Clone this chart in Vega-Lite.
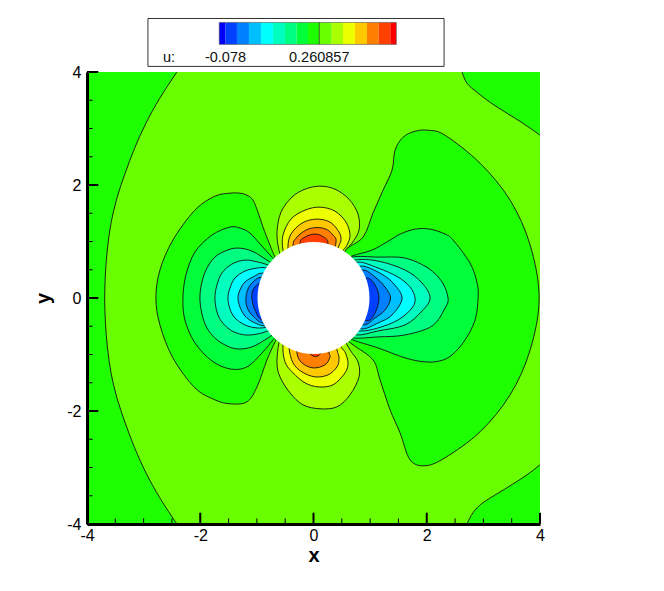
{"$schema":"https://vega.github.io/schema/vega-lite/v6.json","width":453,"height":452,"autosize":{"type":"none"},"padding":{"left":87,"top":72,"right":124,"bottom":67},"background":"white","config":{"view":{"stroke":null}},
"datasets":{
"base":[{"x":-4,"x2":4,"y":-4,"y2":4,"b":"l09"}],
"circle":[{"x":0,"y":0}],
"xt":[{"x":-4,"y":-4,"y2":-3.8,"k":"M"},{"x":-3.5,"y":-4,"y2":-3.9,"k":"m"},{"x":-3,"y":-4,"y2":-3.9,"k":"m"},{"x":-2.5,"y":-4,"y2":-3.9,"k":"m"},{"x":-2,"y":-4,"y2":-3.8,"k":"M"},{"x":-1.5,"y":-4,"y2":-3.9,"k":"m"},{"x":-1,"y":-4,"y2":-3.9,"k":"m"},{"x":-0.5,"y":-4,"y2":-3.9,"k":"m"},{"x":0,"y":-4,"y2":-3.8,"k":"M"},{"x":0.5,"y":-4,"y2":-3.9,"k":"m"},{"x":1,"y":-4,"y2":-3.9,"k":"m"},{"x":1.5,"y":-4,"y2":-3.9,"k":"m"},{"x":2,"y":-4,"y2":-3.8,"k":"M"},{"x":2.5,"y":-4,"y2":-3.9,"k":"m"},{"x":3,"y":-4,"y2":-3.9,"k":"m"},{"x":3.5,"y":-4,"y2":-3.9,"k":"m"},{"x":4,"y":-4,"y2":-3.8,"k":"M"}],
"yt":[{"y":-4,"x":-4,"x2":-3.8,"k":"M"},{"y":-3.5,"x":-4,"x2":-3.9,"k":"m"},{"y":-3,"x":-4,"x2":-3.9,"k":"m"},{"y":-2.5,"x":-4,"x2":-3.9,"k":"m"},{"y":-2,"x":-4,"x2":-3.8,"k":"M"},{"y":-1.5,"x":-4,"x2":-3.9,"k":"m"},{"y":-1,"x":-4,"x2":-3.9,"k":"m"},{"y":-0.5,"x":-4,"x2":-3.9,"k":"m"},{"y":0,"x":-4,"x2":-3.8,"k":"M"},{"y":0.5,"x":-4,"x2":-3.9,"k":"m"},{"y":1,"x":-4,"x2":-3.9,"k":"m"},{"y":1.5,"x":-4,"x2":-3.9,"k":"m"},{"y":2,"x":-4,"x2":-3.8,"k":"M"},{"y":2.5,"x":-4,"x2":-3.9,"k":"m"},{"y":3,"x":-4,"x2":-3.9,"k":"m"},{"y":3.5,"x":-4,"x2":-3.9,"k":"m"},{"y":4,"x":-4,"x2":-3.8,"k":"M"}],
"box":[{"x":-2.924,"x2":2.306,"y":4.099,"y2":4.947}],
"bands":[{"b":"l00","x":-1.665,"x2":-1.552,"y":4.488,"y2":4.877},{"b":"l01","x":-1.552,"x2":-1.352,"y":4.488,"y2":4.877},{"b":"l02","x":-1.352,"x2":-1.14,"y":4.488,"y2":4.877},{"b":"l03","x":-1.14,"x2":-0.928,"y":4.488,"y2":4.877},{"b":"l04","x":-0.928,"x2":-0.716,"y":4.488,"y2":4.877},{"b":"l05","x":-0.716,"x2":-0.504,"y":4.488,"y2":4.877},{"b":"l06","x":-0.504,"x2":-0.297,"y":4.488,"y2":4.877},{"b":"l07","x":-0.297,"x2":-0.097,"y":4.488,"y2":4.877},{"b":"l08","x":-0.097,"x2":0.102,"y":4.488,"y2":4.877},{"b":"l09","x":0.102,"x2":0.322,"y":4.488,"y2":4.877},{"b":"l10","x":0.322,"x2":0.521,"y":4.488,"y2":4.877},{"b":"l11","x":0.521,"x2":0.733,"y":4.488,"y2":4.877},{"b":"l12","x":0.733,"x2":0.945,"y":4.488,"y2":4.877},{"b":"l13","x":0.945,"x2":1.152,"y":4.488,"y2":4.877},{"b":"l14","x":1.152,"x2":1.357,"y":4.488,"y2":4.877},{"b":"l15","x":1.357,"x2":1.463,"y":4.488,"y2":4.877}],
"frame":[{"x":-1.665,"x2":1.463,"y":4.488,"y2":4.877}],
"mid":[{"x":0.102,"y":4.488,"y2":4.877}],
"labels":[{"x":-2.659,"y":4.17,"t":"u:"},{"x":-1.917,"y":4.17,"t":"-0.078"},{"x":-0.433,"y":4.17,"t":"0.260857"}],
"c":[
{"c":"A","b":"l08","x":-2.235,"y":4.241},{"c":"A","b":"l08","x":-2.417,"y":3.993},{"c":"A","b":"l08","x":-2.716,"y":3.534},{"c":"A","b":"l08","x":-2.96,"y":3.092},{"c":"A","b":"l08","x":-3.159,"y":2.651},{"c":"A","b":"l08","x":-3.326,"y":2.209},{"c":"A","b":"l08","x":-3.472,"y":1.767},{"c":"A","b":"l08","x":-3.576,"y":1.325},{"c":"A","b":"l08","x":-3.638,"y":0.884},{"c":"A","b":"l08","x":-3.674,"y":0.442},{"c":"A","b":"l08","x":-3.688,"y":0},{"c":"A","b":"l08","x":-3.674,"y":-0.442},{"c":"A","b":"l08","x":-3.638,"y":-0.884},{"c":"A","b":"l08","x":-3.576,"y":-1.325},{"c":"A","b":"l08","x":-3.472,"y":-1.767},{"c":"A","b":"l08","x":-3.326,"y":-2.209},{"c":"A","b":"l08","x":-3.159,"y":-2.651},{"c":"A","b":"l08","x":-2.96,"y":-3.092},{"c":"A","b":"l08","x":-2.716,"y":-3.534},{"c":"A","b":"l08","x":-2.417,"y":-3.993},{"c":"A","b":"l08","x":-2.235,"y":-4.241},{"c":"A","b":"l08","x":-4.83,"y":-4.241},{"c":"A","b":"l08","x":-4.83,"y":4.241},
{"c":"B","b":"l08","x":2.536,"y":4.205},{"c":"B","b":"l08","x":2.624,"y":3.993},{"c":"B","b":"l08","x":2.712,"y":3.799},{"c":"B","b":"l08","x":2.889,"y":3.64},{"c":"B","b":"l08","x":3.119,"y":3.463},{"c":"B","b":"l08","x":3.419,"y":3.269},{"c":"B","b":"l08","x":3.702,"y":3.092},{"c":"B","b":"l08","x":4.002,"y":2.88},{"c":"B","b":"l08","x":4.285,"y":2.668},{"c":"B","b":"l08","x":5.06,"y":2.668},{"c":"B","b":"l08","x":5.06,"y":4.205},
{"c":"C","b":"l08","x":2.606,"y":-4.188},{"c":"C","b":"l08","x":2.712,"y":-3.993},{"c":"C","b":"l08","x":2.818,"y":-3.799},{"c":"C","b":"l08","x":2.995,"y":-3.622},{"c":"C","b":"l08","x":3.419,"y":-3.357},{"c":"C","b":"l08","x":3.773,"y":-3.128},{"c":"C","b":"l08","x":4.002,"y":-2.951},{"c":"C","b":"l08","x":4.285,"y":-2.739},{"c":"C","b":"l08","x":5.06,"y":-2.739},{"c":"C","b":"l08","x":5.06,"y":-4.188},
{"c":"L1","b":"l08","x":-0.574,"y":0.53},{"c":"L1","b":"l08","x":-0.68,"y":0.724},{"c":"L1","b":"l08","x":-0.769,"y":0.937},{"c":"L1","b":"l08","x":-0.892,"y":1.255},{"c":"L1","b":"l08","x":-0.981,"y":1.52},{"c":"L1","b":"l08","x":-1.069,"y":1.732},{"c":"L1","b":"l08","x":-1.175,"y":1.82},{"c":"L1","b":"l08","x":-1.299,"y":1.855},{"c":"L1","b":"l08","x":-1.475,"y":1.855},{"c":"L1","b":"l08","x":-1.741,"y":1.802},{"c":"L1","b":"l08","x":-2.094,"y":1.555},{"c":"L1","b":"l08","x":-2.483,"y":1.025},{"c":"L1","b":"l08","x":-2.712,"y":0.495},{"c":"L1","b":"l08","x":-2.783,"y":0},{"c":"L1","b":"l08","x":-2.712,"y":-0.477},{"c":"L1","b":"l08","x":-2.483,"y":-1.06},{"c":"L1","b":"l08","x":-2.094,"y":-1.59},{"c":"L1","b":"l08","x":-1.741,"y":-1.802},{"c":"L1","b":"l08","x":-1.475,"y":-1.873},{"c":"L1","b":"l08","x":-1.175,"y":-1.838},{"c":"L1","b":"l08","x":-0.998,"y":-1.573},{"c":"L1","b":"l08","x":-0.822,"y":-1.096},{"c":"L1","b":"l08","x":-0.68,"y":-0.777},{"c":"L1","b":"l08","x":-0.574,"y":-0.565},
{"c":"R1","b":"l08","x":0.468,"y":0.618},{"c":"R1","b":"l08","x":0.557,"y":0.848},{"c":"R1","b":"l08","x":0.875,"y":1.078},{"c":"R1","b":"l08","x":1.051,"y":1.502},{"c":"R1","b":"l08","x":1.228,"y":1.908},{"c":"R1","b":"l08","x":1.387,"y":2.262},{"c":"R1","b":"l08","x":1.44,"y":2.615},{"c":"R1","b":"l08","x":1.581,"y":2.845},{"c":"R1","b":"l08","x":1.794,"y":2.951},{"c":"R1","b":"l08","x":2.023,"y":2.969},{"c":"R1","b":"l08","x":2.324,"y":2.88},{"c":"R1","b":"l08","x":2.942,"y":2.385},{"c":"R1","b":"l08","x":3.472,"y":1.732},{"c":"R1","b":"l08","x":3.826,"y":0.937},{"c":"R1","b":"l08","x":3.985,"y":0},{"c":"R1","b":"l08","x":3.826,"y":-0.919},{"c":"R1","b":"l08","x":3.472,"y":-1.714},{"c":"R1","b":"l08","x":2.942,"y":-2.368},{"c":"R1","b":"l08","x":2.324,"y":-2.827},{"c":"R1","b":"l08","x":1.97,"y":-2.969},{"c":"R1","b":"l08","x":1.705,"y":-2.863},{"c":"R1","b":"l08","x":1.528,"y":-2.385},{"c":"R1","b":"l08","x":1.352,"y":-1.979},{"c":"R1","b":"l08","x":1.175,"y":-1.449},{"c":"R1","b":"l08","x":1.051,"y":-1.096},{"c":"R1","b":"l08","x":0.698,"y":-0.83},{"c":"R1","b":"l08","x":0.468,"y":-0.654},
{"c":"L2","b":"l07","x":-0.539,"y":0.53},{"c":"L2","b":"l07","x":-0.733,"y":0.724},{"c":"L2","b":"l07","x":-0.91,"y":0.919},{"c":"L2","b":"l07","x":-1.122,"y":1.149},{"c":"L2","b":"l07","x":-1.299,"y":1.237},{"c":"L2","b":"l07","x":-1.475,"y":1.255},{"c":"L2","b":"l07","x":-1.794,"y":1.113},{"c":"L2","b":"l07","x":-2.094,"y":0.813},{"c":"L2","b":"l07","x":-2.253,"y":0.406},{"c":"L2","b":"l07","x":-2.306,"y":0},{"c":"L2","b":"l07","x":-2.271,"y":-0.389},{"c":"L2","b":"l07","x":-2.094,"y":-0.795},{"c":"L2","b":"l07","x":-1.794,"y":-1.113},{"c":"L2","b":"l07","x":-1.475,"y":-1.255},{"c":"L2","b":"l07","x":-1.175,"y":-1.219},{"c":"L2","b":"l07","x":-0.892,"y":-0.954},{"c":"L2","b":"l07","x":-0.716,"y":-0.742},{"c":"L2","b":"l07","x":-0.539,"y":-0.53},
{"c":"R2","b":"l07","x":0.504,"y":0.618},{"c":"R2","b":"l07","x":0.68,"y":0.742},{"c":"R2","b":"l07","x":1.034,"y":0.848},{"c":"R2","b":"l07","x":1.352,"y":1.025},{"c":"R2","b":"l07","x":1.528,"y":1.131},{"c":"R2","b":"l07","x":1.794,"y":1.219},{"c":"R2","b":"l07","x":2.059,"y":1.219},{"c":"R2","b":"l07","x":2.324,"y":1.131},{"c":"R2","b":"l07","x":2.465,"y":1.025},{"c":"R2","b":"l07","x":2.765,"y":0.618},{"c":"R2","b":"l07","x":2.889,"y":0.265},{"c":"R2","b":"l07","x":2.907,"y":0},{"c":"R2","b":"l07","x":2.854,"y":-0.389},{"c":"R2","b":"l07","x":2.677,"y":-0.742},{"c":"R2","b":"l07","x":2.447,"y":-1.007},{"c":"R2","b":"l07","x":2.235,"y":-1.113},{"c":"R2","b":"l07","x":1.97,"y":-1.131},{"c":"R2","b":"l07","x":1.617,"y":-1.06},{"c":"R2","b":"l07","x":1.14,"y":-0.884},{"c":"R2","b":"l07","x":0.698,"y":-0.742},{"c":"R2","b":"l07","x":0.504,"y":-0.618},
{"c":"L3","b":"l06","x":-0.557,"y":0.495},{"c":"L3","b":"l06","x":-0.769,"y":0.636},{"c":"L3","b":"l06","x":-1.087,"y":0.83},{"c":"L3","b":"l06","x":-1.352,"y":0.884},{"c":"L3","b":"l06","x":-1.564,"y":0.83},{"c":"L3","b":"l06","x":-1.741,"y":0.724},{"c":"L3","b":"l06","x":-1.882,"y":0.53},{"c":"L3","b":"l06","x":-1.97,"y":0.283},{"c":"L3","b":"l06","x":-2.006,"y":0},{"c":"L3","b":"l06","x":-1.97,"y":-0.283},{"c":"L3","b":"l06","x":-1.882,"y":-0.53},{"c":"L3","b":"l06","x":-1.741,"y":-0.707},{"c":"L3","b":"l06","x":-1.564,"y":-0.83},{"c":"L3","b":"l06","x":-1.352,"y":-0.901},{"c":"L3","b":"l06","x":-1.087,"y":-0.866},{"c":"L3","b":"l06","x":-0.804,"y":-0.707},{"c":"L3","b":"l06","x":-0.557,"y":-0.53},
{"c":"R3","b":"l06","x":0.504,"y":0.583},{"c":"R3","b":"l06","x":0.68,"y":0.724},{"c":"R3","b":"l06","x":1.14,"y":0.724},{"c":"R3","b":"l06","x":1.617,"y":0.707},{"c":"R3","b":"l06","x":2.023,"y":0.53},{"c":"R3","b":"l06","x":2.271,"y":0.283},{"c":"R3","b":"l06","x":2.376,"y":0},{"c":"R3","b":"l06","x":2.324,"y":-0.177},{"c":"R3","b":"l06","x":2.094,"y":-0.495},{"c":"R3","b":"l06","x":1.617,"y":-0.654},{"c":"R3","b":"l06","x":1.14,"y":-0.689},{"c":"R3","b":"l06","x":0.698,"y":-0.707},{"c":"R3","b":"l06","x":0.504,"y":-0.601},
{"c":"L4","b":"l05","x":-0.557,"y":0.459},{"c":"L4","b":"l05","x":-0.804,"y":0.583},{"c":"L4","b":"l05","x":-0.981,"y":0.636},{"c":"L4","b":"l05","x":-1.21,"y":0.671},{"c":"L4","b":"l05","x":-1.44,"y":0.601},{"c":"L4","b":"l05","x":-1.617,"y":0.442},{"c":"L4","b":"l05","x":-1.705,"y":0.23},{"c":"L4","b":"l05","x":-1.741,"y":0},{"c":"L4","b":"l05","x":-1.705,"y":-0.247},{"c":"L4","b":"l05","x":-1.617,"y":-0.424},{"c":"L4","b":"l05","x":-1.44,"y":-0.583},{"c":"L4","b":"l05","x":-1.21,"y":-0.654},{"c":"L4","b":"l05","x":-0.981,"y":-0.636},{"c":"L4","b":"l05","x":-0.804,"y":-0.583},{"c":"L4","b":"l05","x":-0.557,"y":-0.495},
{"c":"R4","b":"l05","x":0.539,"y":0.53},{"c":"R4","b":"l05","x":0.733,"y":0.671},{"c":"R4","b":"l05","x":1.14,"y":0.654},{"c":"R4","b":"l05","x":1.617,"y":0.495},{"c":"R4","b":"l05","x":1.917,"y":0.265},{"c":"R4","b":"l05","x":2.059,"y":0},{"c":"R4","b":"l05","x":1.917,"y":-0.23},{"c":"R4","b":"l05","x":1.617,"y":-0.477},{"c":"R4","b":"l05","x":1.14,"y":-0.583},{"c":"R4","b":"l05","x":0.769,"y":-0.654},{"c":"R4","b":"l05","x":0.539,"y":-0.53},
{"c":"L5","b":"l04","x":-0.557,"y":0.424},{"c":"L5","b":"l04","x":-0.822,"y":0.53},{"c":"L5","b":"l04","x":-0.998,"y":0.53},{"c":"L5","b":"l04","x":-1.21,"y":0.477},{"c":"L5","b":"l04","x":-1.387,"y":0.353},{"c":"L5","b":"l04","x":-1.475,"y":0.177},{"c":"L5","b":"l04","x":-1.511,"y":0},{"c":"L5","b":"l04","x":-1.475,"y":-0.194},{"c":"L5","b":"l04","x":-1.387,"y":-0.353},{"c":"L5","b":"l04","x":-1.21,"y":-0.477},{"c":"L5","b":"l04","x":-0.998,"y":-0.53},{"c":"L5","b":"l04","x":-0.804,"y":-0.512},{"c":"L5","b":"l04","x":-0.557,"y":-0.442},
{"c":"R5","b":"l04","x":0.574,"y":0.495},{"c":"R5","b":"l04","x":0.786,"y":0.636},{"c":"R5","b":"l04","x":1.14,"y":0.53},{"c":"R5","b":"l04","x":1.493,"y":0.371},{"c":"R5","b":"l04","x":1.705,"y":0.194},{"c":"R5","b":"l04","x":1.794,"y":0},{"c":"R5","b":"l04","x":1.74,"y":-0.177},{"c":"R5","b":"l04","x":1.493,"y":-0.389},{"c":"R5","b":"l04","x":1.14,"y":-0.53},{"c":"R5","b":"l04","x":0.822,"y":-0.583},{"c":"R5","b":"l04","x":0.574,"y":-0.495},
{"c":"L6","b":"l03","x":-0.592,"y":0.353},{"c":"L6","b":"l03","x":-0.892,"y":0.442},{"c":"L6","b":"l03","x":-1.069,"y":0.371},{"c":"L6","b":"l03","x":-1.21,"y":0.283},{"c":"L6","b":"l03","x":-1.299,"y":0.141},{"c":"L6","b":"l03","x":-1.334,"y":0},{"c":"L6","b":"l03","x":-1.299,"y":-0.159},{"c":"L6","b":"l03","x":-1.21,"y":-0.318},{"c":"L6","b":"l03","x":-1.069,"y":-0.424},{"c":"L6","b":"l03","x":-0.857,"y":-0.495},{"c":"L6","b":"l03","x":-0.592,"y":-0.424},
{"c":"R6","b":"l03","x":0.61,"y":0.424},{"c":"R6","b":"l03","x":0.839,"y":0.565},{"c":"R6","b":"l03","x":1.14,"y":0.459},{"c":"R6","b":"l03","x":1.387,"y":0.283},{"c":"R6","b":"l03","x":1.564,"y":0},{"c":"R6","b":"l03","x":1.387,"y":-0.3},{"c":"R6","b":"l03","x":1.14,"y":-0.442},{"c":"R6","b":"l03","x":0.857,"y":-0.548},{"c":"R6","b":"l03","x":0.61,"y":-0.424},
{"c":"L7","b":"l02","x":-0.627,"y":0.283},{"c":"L7","b":"l02","x":-0.91,"y":0.371},{"c":"L7","b":"l02","x":-1.069,"y":0.283},{"c":"L7","b":"l02","x":-1.157,"y":0.159},{"c":"L7","b":"l02","x":-1.193,"y":0},{"c":"L7","b":"l02","x":-1.175,"y":-0.159},{"c":"L7","b":"l02","x":-1.087,"y":-0.3},{"c":"L7","b":"l02","x":-0.892,"y":-0.442},{"c":"L7","b":"l02","x":-0.627,"y":-0.353},
{"c":"R7","b":"l02","x":0.645,"y":0.353},{"c":"R7","b":"l02","x":0.875,"y":0.495},{"c":"R7","b":"l02","x":1.087,"y":0.371},{"c":"R7","b":"l02","x":1.263,"y":0.194},{"c":"R7","b":"l02","x":1.361,"y":0},{"c":"R7","b":"l02","x":1.263,"y":-0.212},{"c":"R7","b":"l02","x":1.087,"y":-0.353},{"c":"R7","b":"l02","x":0.892,"y":-0.477},{"c":"R7","b":"l02","x":0.645,"y":-0.353},
{"c":"L8","b":"l01","x":-0.68,"y":0.265},{"c":"L8","b":"l01","x":-0.945,"y":0.265},{"c":"L8","b":"l01","x":-1.069,"y":0.141},{"c":"L8","b":"l01","x":-1.087,"y":0},{"c":"L8","b":"l01","x":-1.034,"y":-0.212},{"c":"L8","b":"l01","x":-0.91,"y":-0.389},{"c":"L8","b":"l01","x":-0.68,"y":-0.3},
{"c":"R8","b":"l01","x":0.68,"y":0.247},{"c":"R8","b":"l01","x":0.945,"y":0.353},{"c":"R8","b":"l01","x":1.087,"y":0.23},{"c":"R8","b":"l01","x":1.157,"y":0},{"c":"R8","b":"l01","x":1.087,"y":-0.265},{"c":"R8","b":"l01","x":0.945,"y":-0.406},{"c":"R8","b":"l01","x":0.68,"y":-0.247},
{"c":"PT1","b":"l10","x":-0.521,"y":0.583},{"c":"PT1","b":"l10","x":-0.61,"y":0.848},{"c":"PT1","b":"l10","x":-0.645,"y":1.166},{"c":"PT1","b":"l10","x":-0.574,"y":1.52},{"c":"PT1","b":"l10","x":-0.38,"y":1.785},{"c":"PT1","b":"l10","x":-0.15,"y":1.926},{"c":"PT1","b":"l10","x":0.115,"y":1.979},{"c":"PT1","b":"l10","x":0.38,"y":1.926},{"c":"PT1","b":"l10","x":0.627,"y":1.749},{"c":"PT1","b":"l10","x":0.786,"y":1.484},{"c":"PT1","b":"l10","x":0.804,"y":1.202},{"c":"PT1","b":"l10","x":0.68,"y":0.972},{"c":"PT1","b":"l10","x":0.557,"y":0.83},{"c":"PT1","b":"l10","x":0.468,"y":0.583},
{"c":"PT2","b":"l11","x":-0.468,"y":0.583},{"c":"PT2","b":"l11","x":-0.539,"y":0.848},{"c":"PT2","b":"l11","x":-0.539,"y":1.113},{"c":"PT2","b":"l11","x":-0.398,"y":1.396},{"c":"PT2","b":"l11","x":-0.15,"y":1.555},{"c":"PT2","b":"l11","x":0.115,"y":1.608},{"c":"PT2","b":"l11","x":0.38,"y":1.537},{"c":"PT2","b":"l11","x":0.574,"y":1.343},{"c":"PT2","b":"l11","x":0.645,"y":1.113},{"c":"PT2","b":"l11","x":0.592,"y":0.937},{"c":"PT2","b":"l11","x":0.504,"y":0.813},{"c":"PT2","b":"l11","x":0.415,"y":0.583},
{"c":"PT3","b":"l12","x":-0.415,"y":0.583},{"c":"PT3","b":"l12","x":-0.451,"y":0.901},{"c":"PT3","b":"l12","x":-0.398,"y":1.131},{"c":"PT3","b":"l12","x":-0.203,"y":1.325},{"c":"PT3","b":"l12","x":0.044,"y":1.396},{"c":"PT3","b":"l12","x":0.292,"y":1.343},{"c":"PT3","b":"l12","x":0.451,"y":1.166},{"c":"PT3","b":"l12","x":0.486,"y":1.025},{"c":"PT3","b":"l12","x":0.433,"y":0.884},{"c":"PT3","b":"l12","x":0.345,"y":0.583},
{"c":"PT4","b":"l13","x":-0.327,"y":0.583},{"c":"PT4","b":"l13","x":-0.362,"y":0.937},{"c":"PT4","b":"l13","x":-0.292,"y":1.078},{"c":"PT4","b":"l13","x":-0.133,"y":1.202},{"c":"PT4","b":"l13","x":0.044,"y":1.246},{"c":"PT4","b":"l13","x":0.221,"y":1.219},{"c":"PT4","b":"l13","x":0.345,"y":1.113},{"c":"PT4","b":"l13","x":0.398,"y":0.99},{"c":"PT4","b":"l13","x":0.292,"y":0.583},
{"c":"PT5","b":"l14","x":-0.203,"y":0.583},{"c":"PT5","b":"l14","x":-0.239,"y":0.972},{"c":"PT5","b":"l14","x":-0.15,"y":1.078},{"c":"PT5","b":"l14","x":0.009,"y":1.131},{"c":"PT5","b":"l14","x":0.15,"y":1.096},{"c":"PT5","b":"l14","x":0.256,"y":0.972},{"c":"PT5","b":"l14","x":0.203,"y":0.583},
{"c":"PB1","b":"l10","x":-0.521,"y":-0.565},{"c":"PB1","b":"l10","x":-0.61,"y":-0.795},{"c":"PB1","b":"l10","x":-0.645,"y":-1.149},{"c":"PB1","b":"l10","x":-0.592,"y":-1.396},{"c":"PB1","b":"l10","x":-0.415,"y":-1.679},{"c":"PB1","b":"l10","x":-0.186,"y":-1.891},{"c":"PB1","b":"l10","x":0.115,"y":-1.961},{"c":"PB1","b":"l10","x":0.415,"y":-1.926},{"c":"PB1","b":"l10","x":0.645,"y":-1.714},{"c":"PB1","b":"l10","x":0.804,"y":-1.396},{"c":"PB1","b":"l10","x":0.786,"y":-1.131},{"c":"PB1","b":"l10","x":0.645,"y":-0.919},{"c":"PB1","b":"l10","x":0.468,"y":-0.601},
{"c":"PB2","b":"l11","x":-0.468,"y":-0.601},{"c":"PB2","b":"l11","x":-0.539,"y":-0.83},{"c":"PB2","b":"l11","x":-0.504,"y":-1.131},{"c":"PB2","b":"l11","x":-0.362,"y":-1.325},{"c":"PB2","b":"l11","x":-0.15,"y":-1.502},{"c":"PB2","b":"l11","x":0.08,"y":-1.573},{"c":"PB2","b":"l11","x":0.345,"y":-1.537},{"c":"PB2","b":"l11","x":0.557,"y":-1.325},{"c":"PB2","b":"l11","x":0.61,"y":-1.149},{"c":"PB2","b":"l11","x":0.557,"y":-0.954},{"c":"PB2","b":"l11","x":0.486,"y":-0.866},{"c":"PB2","b":"l11","x":0.415,"y":-0.601},
{"c":"PB3","b":"l12","x":-0.398,"y":-0.601},{"c":"PB3","b":"l12","x":-0.433,"y":-0.866},{"c":"PB3","b":"l12","x":-0.362,"y":-1.149},{"c":"PB3","b":"l12","x":-0.203,"y":-1.308},{"c":"PB3","b":"l12","x":0.027,"y":-1.396},{"c":"PB3","b":"l12","x":0.256,"y":-1.361},{"c":"PB3","b":"l12","x":0.415,"y":-1.219},{"c":"PB3","b":"l12","x":0.451,"y":-1.06},{"c":"PB3","b":"l12","x":0.415,"y":-0.919},{"c":"PB3","b":"l12","x":0.362,"y":-0.601},
{"c":"PB4","b":"l13","x":-0.292,"y":-0.601},{"c":"PB4","b":"l13","x":-0.292,"y":-0.972},{"c":"PB4","b":"l13","x":-0.203,"y":-1.149},{"c":"PB4","b":"l13","x":-0.009,"y":-1.237},{"c":"PB4","b":"l13","x":0.203,"y":-1.184},{"c":"PB4","b":"l13","x":0.292,"y":-1.043},{"c":"PB4","b":"l13","x":0.274,"y":-0.954},{"c":"PB4","b":"l13","x":0.292,"y":-0.601},
{"c":"PB5","b":"l14","x":-0.08,"y":-0.83},{"c":"PB5","b":"l14","x":-0.08,"y":-0.954},{"c":"PB5","b":"l14","x":-0.009,"y":-1.025},{"c":"PB5","b":"l14","x":0.08,"y":-1.025},{"c":"PB5","b":"l14","x":0.133,"y":-0.954},{"c":"PB5","b":"l14","x":0.133,"y":-0.83}
]},
"encoding":{
"x":{"field":"x","type":"quantitative","title":"x","scale":{"domain":[-4,4],"nice":false,"zero":false},"axis":{"zindex":2,"grid":false,"ticks":false,"values":[-4,-2,0,2,4],"labelExpr":"''+datum.value","labelFlush":false,"labelFont":"Liberation Sans","labelFontSize":16,"labelColor":"black","labelPadding":3,"labelAngle":0,"labelOverlap":false,"domainColor":"black","domainWidth":3,"title":"x","titleFont":"Liberation Sans","titleFontSize":20,"titleFontWeight":"bold","titleColor":"black","titlePadding":2}},
"y":{"field":"y","type":"quantitative","title":"y","scale":{"domain":[-4,4],"nice":false,"zero":false},"axis":{"zindex":2,"grid":false,"ticks":false,"values":[-4,-2,0,2,4],"labelExpr":"''+datum.value","labelFlush":false,"labelFont":"Liberation Sans","labelFontSize":16,"labelColor":"black","labelPadding":6,"labelOverlap":false,"domainColor":"black","domainWidth":3,"title":"y","titleFont":"Liberation Sans","titleFontSize":20,"titleFontWeight":"bold","titleColor":"black","titlePadding":13}}
},
"layer":[
{"data":{"name":"base"},"mark":{"type":"rect"},"encoding":{"x2":{"field":"x2"},"y2":{"field":"y2"},"fill":{"field":"b","type":"nominal","legend":null,"scale":{"domain":["l00","l01","l02","l03","l04","l05","l06","l07","l08","l09","l10","l11","l12","l13","l14","l15"],"range":["#0000ff","#0040ff","#0080ff","#00bfff","#00ffff","#00ffbf","#00ff80","#00ff38","#1eff00","#6aff00","#aaff00","#eeff00","#ffc800","#ff8000","#ff4000","#ff0000"]}}}},
{"data":{"name":"c"},"mark":{"type":"line","interpolate":"cardinal","clip":true,"stroke":"#111111","strokeWidth":0.9},"encoding":{"detail":{"field":"c"},"fill":{"field":"b","type":"nominal","legend":null},"order":{"value":null}}},
{"data":{"name":"circle"},"mark":{"type":"point","filled":true,"fill":"white","opacity":1,"size":12544,"stroke":null}},
{"data":{"name":"xt"},"mark":{"type":"rule","color":"black"},"encoding":{"y2":{"field":"y2"},"strokeWidth":{"field":"k","type":"nominal","legend":null,"scale":{"domain":["m","M"],"range":[1,2]}}}},
{"data":{"name":"yt"},"mark":{"type":"rule","color":"black"},"encoding":{"x2":{"field":"x2"},"strokeWidth":{"field":"k","type":"nominal","legend":null}}},
{"data":{"name":"box"},"mark":{"type":"rect","fill":"white","stroke":"#333333","strokeWidth":1},"encoding":{"x2":{"field":"x2"},"y2":{"field":"y2"}}},
{"data":{"name":"bands"},"mark":{"type":"rect"},"encoding":{"x2":{"field":"x2"},"y2":{"field":"y2"},"fill":{"field":"b","type":"nominal","legend":null}}},
{"data":{"name":"frame"},"mark":{"type":"rect","fill":null,"stroke":"#555555","strokeWidth":0.6},"encoding":{"x2":{"field":"x2"},"y2":{"field":"y2"}}},
{"data":{"name":"mid"},"mark":{"type":"rule","color":"#222222","strokeWidth":0.7},"encoding":{"y2":{"field":"y2"}}},
{"data":{"name":"labels"},"mark":{"type":"text","align":"left","baseline":"alphabetic","font":"Liberation Sans","fontSize":14.5,"color":"#111111"},"encoding":{"text":{"field":"t"}}}
]}
